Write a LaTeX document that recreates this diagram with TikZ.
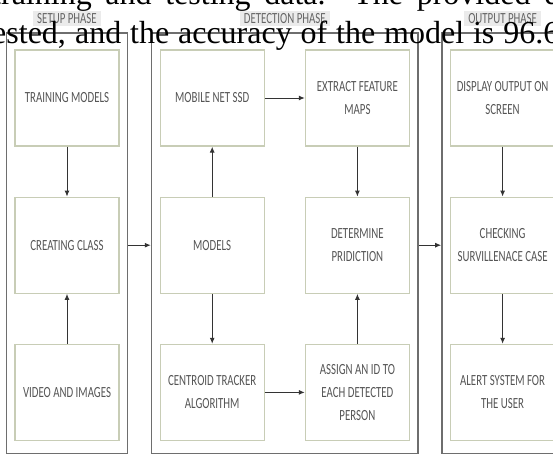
\documentclass[tikz,border=0pt]{standalone}
\usepackage{fontspec}
\newfontfamily\diafont[FakeStretch=0.7]{Carlito}
\newfontfamily\parafont{Liberation Serif}
\usepackage{xcolor}
\definecolor{boxline}{HTML}{C8CDB6}
\definecolor{phaseline}{HTML}{6E6E6E}
\definecolor{txtgray}{HTML}{555555}
\definecolor{lblgray}{HTML}{EBEBEB}
\usepackage{tikz}
\usetikzlibrary{arrows.meta,positioning,fit}

\begin{document}
\begin{tikzpicture}[>={Latex[length=6pt,width=5pt]},x=1pt,y=-1pt,node distance=50pt and 40pt]
\tikzset{
 b/.style={draw=boxline,line width=1.2pt,fill=white,minimum width=104pt,minimum height=96pt,align=center,text=txtgray,font=\diafont\fontsize{15.5}{23}\selectfont},
 ph/.style={draw=phaseline,line width=1.6pt,inner xsep=8pt,inner ysep=14.5pt,yshift=2pt},
 lbl/.style={fill=lblgray,text=black!60,minimum height=15pt,inner xsep=4pt,inner ysep=2pt,font=\diafont\fontsize{15.5}{18}\selectfont},
 a/.style={->,line width=1pt,draw=black!80},
 para/.style={anchor=base west,inner sep=0pt,font=\parafont\fontsize{32}{32}\selectfont}
}
\useasboundingbox (0,0) rectangle (553,453);
\clip (0,0) rectangle (553,453);
\node[b] (train) at (67,98) {TRAINING MODELS};
\node[b,below=of train] (class) {CREATING CLASS};
\node[b,below=of class] (video) {VIDEO AND IMAGES};
\node[b,right=of train] (mobile) {MOBILE NET SSD};
\node[b,below=of mobile] (models) {MODELS};
\node[b,below=of models] (centroid) {CENTROID TRACKER\\ALGORITHM};
\node[b,right=of mobile] (extract) {EXTRACT FEATURE\\MAPS};
\node[b,below=of extract] (determine) {DETERMINE\\PRIDICTION};
\node[b,below=of determine] (assign) {ASSIGN AN ID TO\\EACH DETECTED\\PERSON};
\node[b,right=of extract] (display) {DISPLAY OUTPUT ON\\SCREEN};
\node[b,below=of display] (checking) {CHECKING\\SURVILLENACE CASE};
\node[b,below=of checking] (alert) {ALERT SYSTEM FOR\\THE USER};
% phases
\node[ph,fit=(train)(video)] (setup) {};
\node[ph,fit=(mobile)(assign)] (det) {};
\node[ph,fit=(display)(alert)] (out) {};
\node[lbl,above=6pt of setup] (setuplbl) {SETUP PHASE};
\node[lbl,above=6pt of det] (detlbl) {DETECTION PHASE};
\node[lbl,above=6pt of out] (outlbl) {OUTPUT PHASE};
\foreach \i/\j in {train/class,video/class,models/mobile,models/centroid,mobile/extract,extract/determine,centroid/assign,assign/determine,display/checking,checking/alert}{\draw[a] (\i)--(\j);}
\draw[a] (class.east -| setup.east) -- (class.east -| det.west);
\draw[a] (models.east -| det.east) -- (models.east -| out.west);
% page text over the figure
\node[para] (line1) at (-8,4) {\makebox[568pt][s]{training and testing data. The provided d}};
\node[para] (line2) at (-8,43) {\makebox[567pt][s]{ested, and the accuracy of the model is 96.6}};
\end{tikzpicture}
\end{document}
